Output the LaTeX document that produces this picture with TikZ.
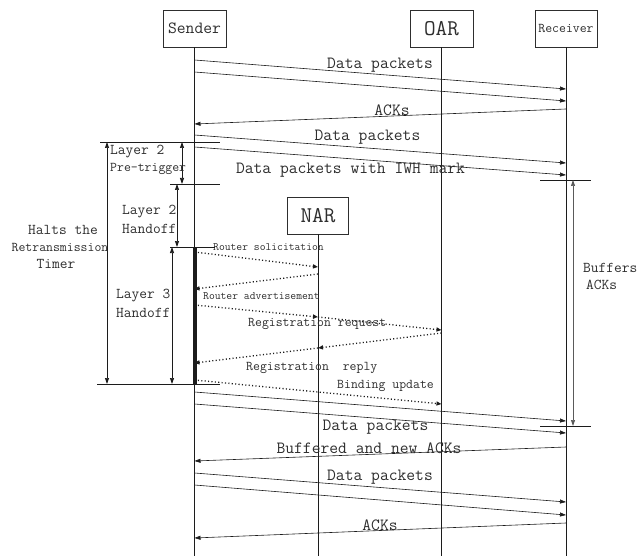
\documentclass[tikz,border=0pt]{standalone}
\usepackage{fontspec}
\usetikzlibrary{arrows.meta,positioning,calc}
\definecolor{ink}{HTML}{2E2E2E}
\definecolor{wire}{HTML}{1C1C1C}
\definecolor{spanc}{HTML}{5A5A5A}

\tikzset{
  entity/.style={draw=ink,line width=0.8pt,minimum width=63pt,minimum height=37pt,inner sep=0pt,text=ink},
  life/.style={wire,line width=0.8pt},
  msg/.style={wire,line width=0.6pt,-{Triangle[length=6pt,width=4pt]}},
  sig/.style={wire,line width=1.3pt,dash pattern=on 1.1pt off 2.3pt,-{Triangle[length=5pt,width=4pt]}},
  span/.style={wire,line width=0.7pt,{Triangle[length=6pt,width=4pt]}-{Triangle[length=6pt,width=4pt]}},
  tick/.style={wire,line width=0.7pt},
  lbl/.style={text=ink,inner sep=0pt,font=\ttfamily\fontsize{17.1}{17.1}\selectfont},
  note/.style={text=ink,inner sep=0pt,anchor=west,font=\ttfamily\fontsize{15}{15}\selectfont},
  small/.style={text=ink,inner sep=0pt,anchor=west,font=\ttfamily\fontsize{13.4}{13.4}\selectfont},
  tiny/.style={text=ink,inner sep=0pt,anchor=west,font=\ttfamily\fontsize{11.3}{11.3}\selectfont}
}

\begin{document}
\begin{tikzpicture}[x=1pt,y=-1pt]
  \useasboundingbox (0,0) rectangle (637,556);
  \coordinate (floor) at (0,556);

  % entities and lifelines
  \node[entity,font=\ttfamily\fontsize{17.1}{17.1}\selectfont] (sender) at (194.5,28.5) {Sender};
  \node[entity,font=\ttfamily\fontsize{22.5}{22.5}\selectfont] (oar) at (441.5,28.5) {OAR};
  \node[entity,minimum width=62pt,font=\ttfamily\fontsize{13.4}{13.4}\selectfont] (rcv) at (566,28.5) {Receiver};
  \node[entity,minimum width=61pt,font=\ttfamily\fontsize{22.5}{22.5}\selectfont] (nar) at (318,215.5) {NAR};
  \foreach \e in {sender,oar,rcv,nar}
    \draw[life] (\e.south) -- (\e |- floor);
  \draw[wire,line width=4pt] (sender |- 0,247) -- (sender |- 0,384);

  % data and ack flows
  \foreach \a/\b in {60/89,72/101,135/163,147/175,392/421,404/433,473/502,485/515}
    \draw[msg] (sender |- 0,\a) -- (rcv |- 0,\b);
  \foreach \a/\b in {109/124,447/461,523/538}
    \draw[msg] (rcv |- 0,\a) -- (sender |- 0,\b);
  \node[lbl] (dp1) at (380,65) {Data packets};
  \node[lbl] (ack1) at (392,110) {ACKs};
  \node[lbl] (dp2) at (367.5,137) {Data packets};
  \node[lbl] (dpiwh) at (350.5,170) {Data packets with IWH mark};
  \node[lbl] (dp3) at (375.5,427) {Data packets};
  \node[lbl] (bufack) at (369,448) {Buffered and new ACKs};
  \node[lbl] (dp4) at (380,477) {Data packets};
  \node[lbl] (ack2) at (380,525) {ACKs};

  % signalling with the new router
  \draw[sig] (sender |- 0,252) -- (nar |- 0,267);
  \draw[sig] (nar |- 0,274) -- (sender |- 0,289);
  \draw[sig] (sender |- 0,305) -- (nar |- 0,317);
  \draw[sig] (nar |- 0,317) -- (oar |- 0,330);
  \draw[sig] (oar |- 0,333) -- (nar |- 0,348);
  \draw[sig] (nar |- 0,348) -- (sender |- 0,363);
  \draw[sig] (sender |- 0,380) -- (oar |- 0,404);
  \node[tiny] (rsol) at (213,247) {Router solicitation};
  \node[tiny] (radv) at (203,296) {Router advertisement};
  \node[small] (rreq) at (248,324) {Registration request};
  \node[small] (rrep) at (246,368) {Registration\ \ reply};
  \node[small] (bu) at (337,386) {Binding update};

  % timing spans, left
  \draw[tick] (100,142) -- (220,142);
  \draw[tick] (170,184) -- (220,184);
  \draw[tick] (170,247) -- (215,247);
  \draw[tick] (97,384) -- (220,384);
  \draw[span] (182,142) -- (182,184);
  \draw[span] (177,184) -- (177,247);
  \draw[span] (172,247) -- (172,384);
  \draw[span] (107,142) -- (107,384);
  \node[note] (l2a) at (110,152) {Layer 2};
  \node[small] (l2b) at (110,169) {Pre-trigger};
  \node[note] (l2c) at (122,212) {Layer 2};
  \node[note] (l2d) at (122,229) {Handoff};
  \node[note] (l3a) at (116,296) {Layer 3};
  \node[note] (l3b) at (116,313) {Handoff};
  \node[note,anchor=center] (halt1) at (63,230) {Halts the};
  \node[small,anchor=center] (halt2) at (60,247) {Retransmission};
  \node[note,anchor=center] (halt3) at (56,264) {Timer};

  % buffering span, right
  \draw[tick] (540,180) -- (591,180);
  \draw[tick] (540,426) -- (591,426);
  \draw[span,spanc] (573,180) -- (573,426);
  \node[note] (buf1) at (583,268) {Buffers};
  \node[note] (buf2) at (586,285) {ACKs};
\end{tikzpicture}
\end{document}
